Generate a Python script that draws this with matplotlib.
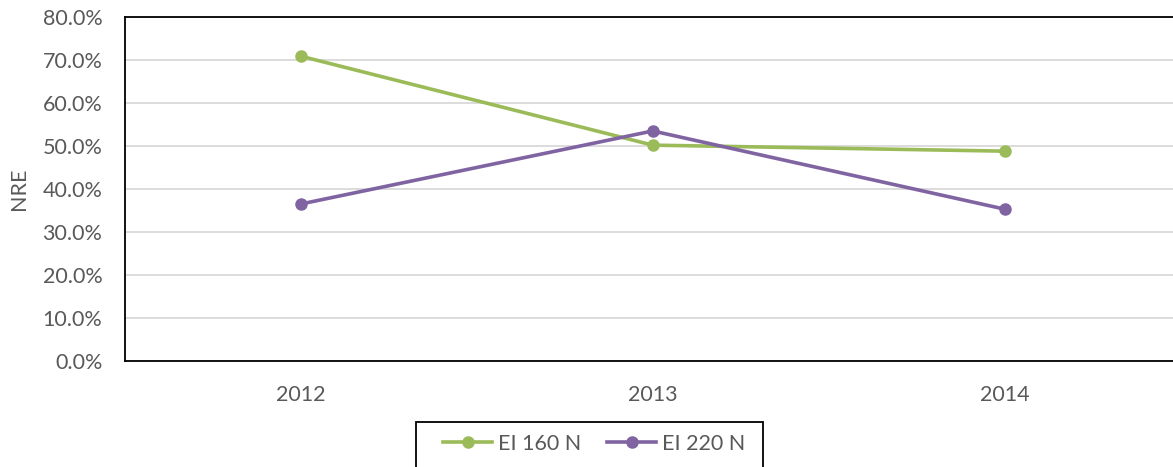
import matplotlib
matplotlib.use("Agg")
import matplotlib.pyplot as plt
from matplotlib.patches import Rectangle
from matplotlib.ticker import FuncFormatter

# data
years = ["2012", "2013", "2014"]
ei_160 = [70.9, 50.2, 48.8]
ei_220 = [36.5, 53.5, 35.3]
series_names = ["EI 160 N", "EI 220 N"]

W, H = 1173, 467
plt.rcParams["font.family"] = ["Lato", "DejaVu Sans"]
FS = 15.5

fig = plt.figure(figsize=(W / 100, H / 100), dpi=100)
ax = fig.add_axes([124.5 / W, 1 - 361 / H, (1181 - 124.5) / W, (361 - 17) / H])

x = range(len(years))
green, purple = "#9BBB59", "#8064A2"
ax.plot(x, ei_160, color=green, lw=2.6, marker="o", ms=8, label=series_names[0], zorder=3)
ax.plot(x, ei_220, color=purple, lw=2.6, marker="o", ms=8, label=series_names[1], zorder=3)

ax.set_xlim(-0.5, 2.5)
ax.set_ylim(0, 80)
ax.set_yticks(range(0, 81, 10))
ax.yaxis.set_major_formatter(FuncFormatter(lambda v, p: f"{v:.1f}%"))
ax.set_xticks(list(x))
ax.set_xticklabels(years)
ax.tick_params(length=0, labelsize=FS, labelcolor="#595959")
ax.tick_params(axis="y", pad=16)
ax.tick_params(axis="x", pad=17)
ax.grid(axis="y", color="#d9d9d9", lw=1.3)
ax.set_axisbelow(True)
for s in ["left", "bottom", "top"]:
    ax.spines[s].set_linewidth(1.3)
    ax.spines[s].set_color("black")
ax.spines["right"].set_visible(False)

fig.text(19 / W, 1 - 189 / H, "NRE", rotation=90, ha="center", va="center",
         fontsize=FS, color="#595959")

# legend box (bottom cut off in the reference)
fig.patches.append(Rectangle((416 / W, -0.05), (763 - 416) / W, 0.05 + 1 - 422 / H,
                             transform=fig.transFigure, fill=False, ec="black", lw=1.3))
fig.legend(loc="center", bbox_to_anchor=(594 / W, 1 - 444 / H), ncol=2, frameon=False,
           fontsize=FS, labelcolor="#595959", handlelength=2.3, handletextpad=0.25,
           columnspacing=1.2)

fig.savefig("out.png", dpi=100)
